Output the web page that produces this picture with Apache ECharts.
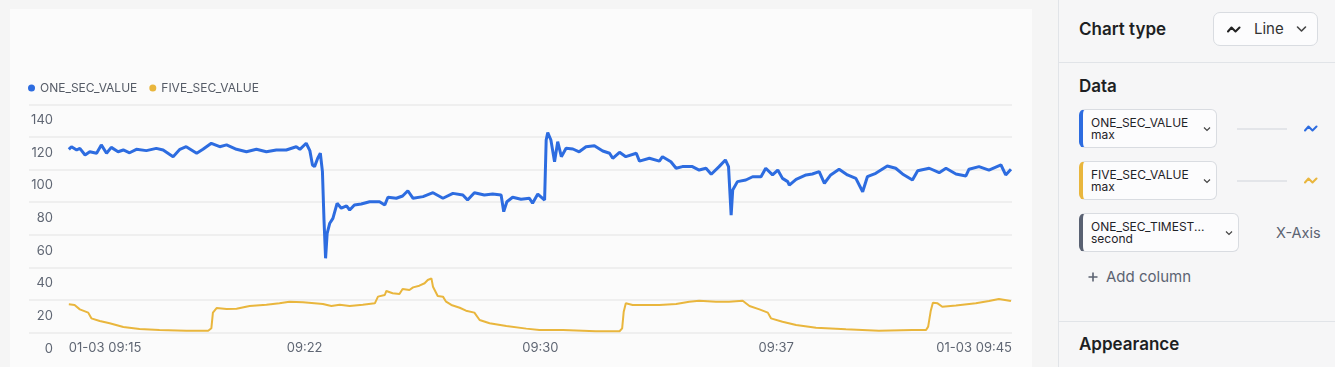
<!DOCTYPE html>
<html>
<head>
<meta charset="utf-8">
<script src="https://cdn.jsdelivr.net/npm/echarts@6/dist/echarts.min.js"></script>
<style>
  html, body { margin:0; padding:0; }
  body { width:1335px; height:367px; overflow:hidden; background:#f5f5f5; font-family:Inter, "Noto Sans", sans-serif; position:relative; }
  #card { position:absolute; left:10px; top:9px; width:1022px; height:358px; background:#fbfbfb; }
  #chart { position:absolute; left:0; top:0; width:1022px; height:358px; }
  #side { position:absolute; left:1058px; top:0; width:277px; height:367px; background:#f6f6f7; border-left:1px solid #e1e4e8; box-sizing:border-box; }
  .abs { position:absolute; }
  .h { font-size:17px; font-weight:600; color:#1d1f23; line-height:20px; }
  .divider { position:absolute; left:0; width:277px; height:1px; background:#e1e4e8; }
  .pill { position:absolute; box-sizing:border-box; height:39px; background:#fcfcfd; border:1px solid #d9dce1; border-radius:6px; padding:7px 0 0 8px; font-size:12px; line-height:12px; color:#1f2328; }
  .pill .chev { position:absolute; top:16px; }
  .connector { position:absolute; height:2px; background:#e3e5e9; width:50px; }
</style>
</head>
<body>
<div id="card"><div id="chart"></div></div>
<div id="side">
  <div class="abs h" style="left:20px; top:19px;">Chart type</div>
  <div class="abs" style="left:154px; top:12px; width:105px; height:34px; box-sizing:border-box; border:1px solid #d9dce1; border-radius:7px; background:#fcfcfd;">
    <svg class="abs" style="left:13px; top:12px;" width="14" height="9" viewBox="0 0 14 9"><polyline points="1,6.5 4.5,2.5 8.5,6.5 12.5,2.5" fill="none" stroke="#222" stroke-width="2" stroke-linejoin="round" stroke-linecap="round"/></svg>
    <div class="abs" style="left:40px; top:7px; font-size:15px; line-height:18px; color:#333;">Line</div>
    <svg class="abs" style="left:82px; top:12px;" width="11" height="8" viewBox="0 0 11 8"><polyline points="1.5,2 5.5,6 9.5,2" fill="none" stroke="#444" stroke-width="1.6" stroke-linecap="round" stroke-linejoin="round"/></svg>
  </div>
  <div class="divider" style="top:62px;"></div>
  <div class="abs h" style="left:20px; top:76px;">Data</div>

  <div class="pill" style="left:20px; top:109px; width:138px; border-left:4px solid #2d6ce0;">ONE_SEC_VALUE<br>max
    <svg class="chev" style="left:120px;" width="8" height="6" viewBox="0 0 8 6"><polyline points="1,1.5 4,4.5 7,1.5" fill="none" stroke="#444" stroke-width="1.2"/></svg>
  </div>
  <div class="connector" style="left:178px; top:128px;"></div>
  <svg class="abs" style="left:245px; top:124px;" width="14" height="9" viewBox="0 0 14 9"><polyline points="1,6.5 4.5,2.5 8.5,6.5 12.5,2.5" fill="none" stroke="#2d6ce0" stroke-width="2" stroke-linejoin="round" stroke-linecap="round"/></svg>

  <div class="pill" style="left:20px; top:161px; width:138px; border-left:4px solid #e9b63d;">FIVE_SEC_VALUE<br>max
    <svg class="chev" style="left:120px;" width="8" height="6" viewBox="0 0 8 6"><polyline points="1,1.5 4,4.5 7,1.5" fill="none" stroke="#444" stroke-width="1.2"/></svg>
  </div>
  <div class="connector" style="left:178px; top:180px;"></div>
  <svg class="abs" style="left:245px; top:176px;" width="14" height="9" viewBox="0 0 14 9"><polyline points="1,6.5 4.5,2.5 8.5,6.5 12.5,2.5" fill="none" stroke="#e9b63d" stroke-width="2" stroke-linejoin="round" stroke-linecap="round"/></svg>

  <div class="pill" style="left:20px; top:213px; width:160px; border-left:4px solid #5a6273;">ONE_SEC_TIMEST...<br>second
    <svg class="chev" style="left:142px;" width="8" height="6" viewBox="0 0 8 6"><polyline points="1,1.5 4,4.5 7,1.5" fill="none" stroke="#444" stroke-width="1.2"/></svg>
  </div>
  <div class="abs" style="left:217px; top:224px; font-size:14.5px; line-height:18px; color:#5c6372;">X-Axis</div>

  <svg class="abs" style="left:29px; top:272px;" width="10" height="10" viewBox="0 0 10 10"><path d="M5 0.5 V9.5 M0.5 5 H9.5" stroke="#5c6372" stroke-width="1.6"/></svg>
  <div class="abs" style="left:47px; top:268px; font-size:15px; line-height:18px; color:#5c6372;">Add column</div>

  <div class="divider" style="top:321px;"></div>
  <div class="abs h" style="left:20px; top:334px;">Appearance</div>
</div>
<script>
// X-axis: seconds since 01-03 09:15:00
const xTickValues = [0, 450, 900, 1350, 1800];
const xTickLabels = ['01-03 09:15', '09:22', '09:30', '09:37', '01-03 09:45'];
const yTickValues = [0, 20, 40, 60, 80, 100, 120, 140];

const oneSecTime = [0,5,15,21,31,40,53,62,72,81,94,104,116,129,148,167,180,199,212,224,244,256,272,288,301,320,339,358,377,396,415,434,441,453,460,465,469,475,480,484,487,490,493,498,504,512,520,530,536,545,558,574,593,603,609,625,637,647,657,676,695,714,733,752,761,774,793,809,825,830,836,847,863,879,885,895,908,911,914,920,927,933,940,949,962,974,987,1003,1019,1032,1038,1051,1063,1083,1089,1108,1127,1133,1149,1159,1171,1190,1203,1216,1226,1241,1253,1259,1264,1267,1276,1292,1305,1321,1330,1343,1353,1362,1372,1375,1388,1407,1419,1432,1442,1454,1470,1486,1502,1515,1524,1540,1562,1578,1591,1610,1620,1642,1661,1674,1693,1712,1718,1737,1756,1779,1788,1798];
const oneSecValue = [112.4,114.0,112.0,113.0,108.9,110.9,110.0,115.1,110.0,113.6,110.9,112.0,110.3,112.4,111.6,113.0,112.0,107.9,112.4,114.0,110.0,112.4,116.1,114.0,115.1,112.4,110.9,112.4,110.9,112.0,112.0,114.0,112.4,116.1,111.6,102.8,101.8,106.9,110.0,98.7,69.1,45.6,60.9,67.1,70.1,79.3,76.3,77.7,75.2,78.3,78.9,80.3,80.3,78.3,83.0,82.4,83.8,87.0,82.4,83.4,85.8,82.4,85.4,84.4,81.3,85.8,84.4,85.0,84.4,74.2,80.3,83.0,81.8,82.4,79.3,85.0,81.3,118.1,122.6,118.1,104.8,117.1,107.9,113.0,112.6,110.9,114.0,114.6,111.4,110.0,106.9,110.6,107.9,110.0,105.2,106.9,105.2,107.9,104.8,100.8,101.8,101.8,99.7,100.8,97.1,101.8,105.9,101.8,72.1,87.5,92.6,93.6,95.6,95.6,100.8,96.7,99.7,94.6,92.6,90.5,94.0,96.7,97.3,98.7,91.6,96.7,100.2,96.7,94.6,86.4,95.6,97.7,102.2,100.8,97.3,93.6,99.3,100.8,98.1,100.8,97.3,96.1,100.2,101.8,99.7,102.8,96.7,100.2];

const fiveSecTime = [0,11,21,37,43,59,78,104,135,173,224,266,272,275,282,301,320,345,377,402,421,447,485,501,517,536,561,584,590,603,606,618,631,637,650,657,669,679,685,692,695,704,714,720,730,746,758,774,784,803,835,873,898,943,1006,1051,1056,1059,1063,1076,1127,1159,1184,1203,1235,1260,1286,1299,1318,1334,1340,1362,1388,1426,1483,1546,1610,1636,1640,1645,1649,1658,1667,1693,1731,1756,1775,1798];
const fiveSecValue = [17.4,17.0,14.3,12.3,8.8,7.2,5.8,3.5,2.3,1.7,1.2,1.2,2.7,12.3,15.1,14.5,14.7,16.4,17.2,18.0,19.0,18.6,17.6,16.4,17.2,16.4,17.2,18.0,22.1,23.1,25.6,24.2,23.7,26.8,26.2,27.8,28.8,30.3,32.3,33.3,28.2,22.5,22.1,19.0,17.0,15.3,13.5,12.3,7.8,5.8,4.1,2.5,1.7,1.7,0.9,0.9,2.7,12.9,18.0,17.0,17.0,17.6,19.0,19.6,19.0,19.0,19.6,16.4,14.3,12.3,8.8,6.7,4.7,3.1,2.1,1.2,1.7,1.7,3.7,13.5,18.4,18.0,15.9,16.6,18.0,19.4,20.7,19.4];

const BLUE = '#2d6ce0';
const YELLOW = '#e9b63d';
const FONT = 'Inter';
const LABEL_COLOR = '#5f6673';

const chart = echarts.init(document.getElementById('chart'), null, { renderer: 'canvas' });
chart.setOption({
  animation: false,
  textStyle: { fontFamily: FONT },
  legend: {
    data: ['ONE_SEC_VALUE', 'FIVE_SEC_VALUE'],
    icon: 'circle', itemWidth: 7, itemHeight: 7, itemGap: 12,
    left: 18, top: 73, padding: 0,
    textStyle: { color: '#555b66', fontSize: 12, fontFamily: FONT }
  },
  grid: { left: 19, right: 20, top: 95.3, bottom: 34.3, containLabel: false, outerBoundsMode: 'none' },
  xAxis: {
    type: 'value', min: -76, max: 1800,
    axisLine: { show: false }, axisTick: { show: false }, splitLine: { show: false },
    axisLabel: {
      customValues: xTickValues,
      alignMinLabel: 'left', alignMaxLabel: 'right',
      hideOverlap: false,
      margin: 9, color: LABEL_COLOR, fontSize: 13, fontFamily: FONT,
      formatter: function (v) {
        const i = xTickValues.indexOf(Math.round(v));
        return i >= 0 ? xTickLabels[i] : '';
      }
    }
  },
  yAxis: {
    type: 'value', min: 0, max: 140, interval: 20,
    axisLine: { show: false }, axisTick: { show: false },
    splitLine: { show: true, lineStyle: { color: '#ebebeb', width: 1.5 } },
    axisLabel: {
      inside: true, align: 'right', margin: 24,
      showMinLabel: true, showMaxLabel: true, hideOverlap: false,
      verticalAlign: 'top', lineHeight: 32,
      color: LABEL_COLOR, fontSize: 13, fontFamily: FONT
    }
  },
  series: [
    {
      name: 'ONE_SEC_VALUE', type: 'line', showSymbol: false, symbol: 'circle',
      color: BLUE, lineStyle: { width: 3, color: BLUE },
      data: oneSecTime.map((t, i) => [t, oneSecValue[i]])
    },
    {
      name: 'FIVE_SEC_VALUE', type: 'line', showSymbol: false, symbol: 'circle',
      color: YELLOW, lineStyle: { width: 2, color: YELLOW },
      data: fiveSecTime.map((t, i) => [t, fiveSecValue[i]])
    }
  ]
});
</script>
</body>
</html>
